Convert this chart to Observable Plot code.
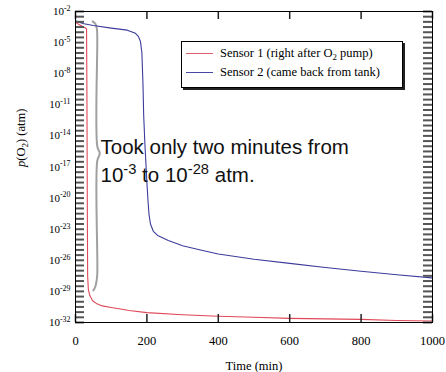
<!DOCTYPE html>
<html><head><meta charset="utf-8">
<script src="https://cdn.jsdelivr.net/npm/d3@7"></script>
<script src="https://cdn.jsdelivr.net/npm/@observablehq/plot@0.6"></script>
<style>
html,body{margin:0;padding:0;background:#fff;}
#wrap{position:relative;width:446px;height:372px;}
#wrap svg text{font-family:"Liberation Serif",serif;}
#legend{position:absolute;left:181px;top:41px;width:222px;height:47px;border:1px solid #000;box-shadow:2px 2px 0 #222;background:#fff;font-family:"Liberation Serif",serif;font-size:12.5px;color:#000;box-sizing:border-box;padding-top:2px}
.item{display:flex;align-items:center;height:19px;white-space:nowrap;}
.sw{width:27px;height:0;border-top:1px solid;margin-left:4px;margin-right:7px;}
sub{font-size:70%;vertical-align:-3px;line-height:0;}
</style></head><body><div id="wrap"></div>
<script>
// ---- data ----
const sensor1Name = "Sensor 1 (right after O<sub>2</sub> pump)";
const sensor2Name = "Sensor 2 (came back from tank)";
const time1 = [0, 10, 20, 28, 31, 32, 33, 34, 36, 40, 48, 60, 75, 100, 126, 150, 200, 300, 400, 500, 600, 700, 800, 900, 1000];
const logP1 = [-3.05, -3.25, -3.45, -3.6, -3.7, -10, -20, -27.5, -28.8, -29.4, -29.9, -30.2, -30.4, -30.55, -30.7, -30.85, -31.05, -31.25, -31.4, -31.5, -31.6, -31.65, -31.7, -31.8, -31.85];
const time2 = [0, 20, 50, 100, 145, 168, 176, 182, 186, 189, 191, 194, 197, 200, 203, 206, 210, 218, 230, 260, 300, 350, 400, 500, 600, 700, 800, 900, 1000];
const logP2 = [-2.9, -3.15, -3.35, -3.6, -3.8, -4.1, -4.4, -4.9, -6, -9, -12, -14.5, -16.5, -18.5, -20.2, -21.6, -22.5, -23.2, -23.6, -24.1, -24.6, -25.0, -25.4, -25.9, -26.3, -26.7, -27.05, -27.4, -27.7];
const xTicks = [0, 200, 400, 600, 800, 1000];
const yMajorExp = [-2, -5, -8, -11, -14, -17, -20, -23, -26, -29, -32];
const yMinorExp = d3.range(-2, -32.01, -0.5);
// annotation brace (time, log10 p)
const braceT = [48, 56, 60, 61, 61, 68, 61, 61, 59, 55, 50];
const braceL = [-2.95, -3.2, -3.7, -4.6, -15.0, -15.7, -16.4, -27.3, -28.0, -28.6, -28.9];
const annoText = ["Took only two minutes from", "10^{-3} to 10^{-28} atm."];
const annoT = [70, 70];
const annoL = [-15.1, -17.8];

const s1 = time1.map((t, i) => ({t, p: Math.pow(10, logP1[i])}));
const s2 = time2.map((t, i) => ({t, p: Math.pow(10, logP2[i])}));
const brace = braceT.map((t, i) => ({t, p: Math.pow(10, braceL[i])}));
const anno = annoText.map((s, i) => ({s, t: annoT[i], p: Math.pow(10, annoL[i])}));
const major = yMajorExp.map(e => Math.pow(10, e));
const minor = yMinorExp.map(e => Math.pow(10, e));

const W = 446, H = 372, ML = 75, MR = 14, MT = 11, MB = 50;
const FW = W - ML - MR, FH = H - MT - MB, TK = 9;
const serif = "Liberation Serif";
const tickStyle = {stroke: "#555", strokeWidth: 2};
const chart = Plot.plot({
  width: W, height: H,
  marginLeft: ML, marginRight: MR, marginTop: MT, marginBottom: MB,
  style: {fontFamily: serif, fontSize: "12px", background: "#fff"},
  x: {domain: [0, 1000], label: null},
  y: {type: "log", domain: [1e-32, 1e-2], label: null},
  marks: [
    Plot.line(brace, {x: "t", y: "p", stroke: "#a0a0a0", strokeWidth: 2, curve: "catmull-rom"}),
    Plot.line(s2, {x: "t", y: "p", stroke: "#3c3c9c", strokeWidth: 1.1, clip: true}),
    Plot.line(s1, {x: "t", y: "p", stroke: "#e04858", strokeWidth: 1.1, clip: true}),
    Plot.text(anno, {x: "t", y: "p", text: "s", textAnchor: "start", fontFamily: "Liberation Sans", fontSize: 20.5, fill: "#111"}),
    // inward ticks on all four sides
    Plot.ruleY(minor, {y: d => d, insetRight: FW - TK, ...tickStyle}),
    Plot.ruleY(minor, {y: d => d, insetLeft: FW - TK, ...tickStyle}),
    Plot.ruleX(xTicks, {x: d => d, insetTop: FH - 8, stroke: "#222", strokeWidth: 1.5}),
    Plot.ruleX(xTicks, {x: d => d, insetBottom: FH - 8, stroke: "#222", strokeWidth: 1.5}),
    Plot.axisY({ticks: major, tickSize: 0, tickPadding: 5, tickFormat: v => "10^{" + Math.round(Math.log10(v)) + "}", fontFamily: serif, fontSize: 11, label: null}),
    Plot.axisX({ticks: xTicks, tickSize: 0, tickPadding: 14, tickFormat: d => String(d), fontFamily: serif, fontSize: 12.5, label: null}),
    Plot.frame({stroke: "black"}),
    Plot.text(["Time (min)"], {frameAnchor: "bottom", dy: 47, fontFamily: serif, fontSize: 12.5}),
    Plot.text(["*p*(O_{2}) (atm)"], {frameAnchor: "left", rotate: -90, dx: -55, fontFamily: serif, fontSize: 12.5})
  ]
});
const wrap = document.getElementById("wrap");
wrap.appendChild(chart);

function richify(svg) {
  d3.select(svg).selectAll("text").each(function() {
    const el = this;
    const s = el.textContent;
    if (!/(\^\{|_\{|\*)/.test(s)) return;
    const fs = parseFloat(getComputedStyle(el).fontSize) || 12;
    const parts = s.split(/(\^\{[^}]*\}|_\{[^}]*\}|\*[^*]*\*)/).filter(x => x !== "");
    while (el.firstChild) el.removeChild(el.firstChild);
    let shift = 0;
    for (const p of parts) {
      const ts = document.createElementNS("http://www.w3.org/2000/svg", "tspan");
      let target = 0, txt = p;
      if (p.startsWith("^{")) { target = -fs * 0.38; txt = p.slice(2, -1); ts.setAttribute("font-size", fs * 0.72); }
      else if (p.startsWith("_{")) { target = fs * 0.25; txt = p.slice(2, -1); ts.setAttribute("font-size", fs * 0.72); }
      else if (p.startsWith("*")) { txt = p.slice(1, -1); ts.setAttribute("font-style", "italic"); }
      if (target - shift !== 0) ts.setAttribute("dy", target - shift);
      shift = target;
      ts.textContent = txt;
      el.appendChild(ts);
    }
  });
}
richify(chart);
d3.select(chart).selectAll("text").filter(function() { return /Took|atm\./.test(this.textContent); }).style("font-family", "'Liberation Sans', sans-serif");

const legend = document.createElement("div");
legend.id = "legend";
legend.innerHTML = `<div class="item"><span class="sw" style="border-color:#e06070"></span><span>${sensor1Name}</span></div>` +
  `<div class="item"><span class="sw" style="border-color:#4848a0"></span><span>${sensor2Name}</span></div>`;
wrap.appendChild(legend);
</script></body></html>
